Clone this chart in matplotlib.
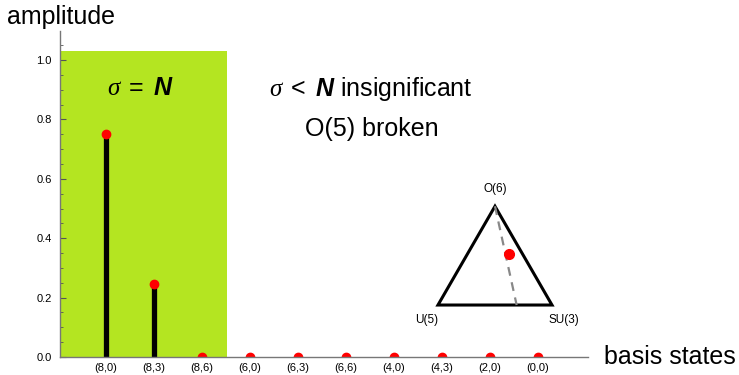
import numpy as np
import matplotlib
matplotlib.use("Agg")
import matplotlib.pyplot as plt
from matplotlib.patches import Rectangle, Polygon

plt.rcParams['font.family'] = ['Liberation Sans', 'DejaVu Sans']
plt.rcParams['mathtext.fontset'] = 'custom'
plt.rcParams['mathtext.rm'] = 'Liberation Sans'
plt.rcParams['mathtext.it'] = 'Liberation Serif:italic'
plt.rcParams['mathtext.sf'] = 'Liberation Sans:italic:bold'

# basis states and their amplitudes
states = ["(8,0)", "(8,3)", "(8,6)", "(6,0)", "(6,3)", "(6,6)",
          "(4,0)", "(4,3)", "(2,0)", "(0,0)"]
amplitudes = [0.75, 0.245, 0.0, 0.0, 0.0, 0.0, 0.0, 0.0, 0.0, 0.0]
yticks = [0.0, 0.2, 0.4, 0.6, 0.8, 1.0]

# position of the state in the symmetry triangle
point_xy = (0.62, 0.45)
dash_end_x = 0.69

W, H = 739, 375
fig = plt.figure(figsize=(W / 100, H / 100), dpi=100)

def px_axes(x0, y0, x1, y1):
    return fig.add_axes([x0 / W, 1 - y1 / H, (x1 - x0) / W, (y1 - y0) / H])

ax = px_axes(60, 31, 588, 357)
pos = np.arange(1, len(states) + 1)
ax.set_xlim(0.042, 11.04)
ax.set_ylim(0, 1.098)

# shaded region for sigma = N
ax.add_patch(Rectangle((0.042, 0), 3.52 - 0.042, 1.03, facecolor='#b4e521',
                       edgecolor='none', zorder=0))

ax.vlines(pos, 0, amplitudes, colors='black', linewidth=3.8, zorder=2)
ax.plot(pos, amplitudes, 'o', color='#ff0000', markersize=6, zorder=3,
        clip_on=True)

for s in ['top', 'right']:
    ax.spines[s].set_visible(False)
for s in ['left', 'bottom']:
    ax.spines[s].set_color('#777777')
    ax.spines[s].set_linewidth(1.0)
    ax.spines[s].set_zorder(4)

ax.set_xticks(pos)
ax.set_xticklabels(states, fontsize=8)
ax.set_yticks(yticks)
ax.set_yticklabels([f"{v:.1f}" for v in yticks], fontsize=8)
ax.set_yticks(np.arange(0, 1.1, 0.05), minor=True)
ax.tick_params(axis='y', which='major', direction='in', length=4,
               color='#555555', pad=6)
ax.tick_params(axis='y', which='minor', direction='in', length=2,
               color='#555555')
ax.tick_params(axis='x', which='major', direction='in', length=3,
               color='#333333', pad=4)

fig.text(7 / W, 1 - 17 / H, "amplitude", fontsize=18, va='center', ha='left')
fig.text(604 / W, 1 - 357 / H, "basis states", fontsize=18, va='center',
         ha='left')

fig.text(140 / W, 1 - 88 / H, r"$\sigma\ =\ \mathsf{N}$", fontsize=18,
         ha='center', va='center')
fig.text(371 / W, 1 - 89 / H, r"$\sigma\ <\ \mathsf{N}$ insignificant",
         fontsize=18, ha='center', va='center')
fig.text(372 / W, 1 - 129 / H, "O(5) broken", fontsize=18, ha='center',
         va='center')

# symmetry triangle inset
ins = px_axes(400, 170, 600, 330)
ins.set_xlim(-0.333, 1.421)
ins.set_ylim(-0.219, 1.184)
ins.axis('off')
tri = np.array([[0, 0], [1, 0], [0.5, np.sqrt(3) / 2]])
ins.add_patch(Polygon(tri, closed=True, fill=False, edgecolor='black',
                      linewidth=2.2, joinstyle='miter'))
ins.plot([0.5, dash_end_x], [np.sqrt(3) / 2, 0], color='#888888',
         linewidth=1.6, dashes=(4, 3))
ins.plot(*point_xy, 'o', color='#ff0000', markersize=7)
ins.text(0.5, np.sqrt(3) / 2 + 0.1, "O(6)", fontsize=8.5, ha='center',
         va='bottom')
ins.text(-0.1, -0.13, "U(5)", fontsize=8.5, ha='center', va='center')
ins.text(1.1, -0.13, "SU(3)", fontsize=8.5, ha='center', va='center')

fig.savefig("out.png", dpi=100)
